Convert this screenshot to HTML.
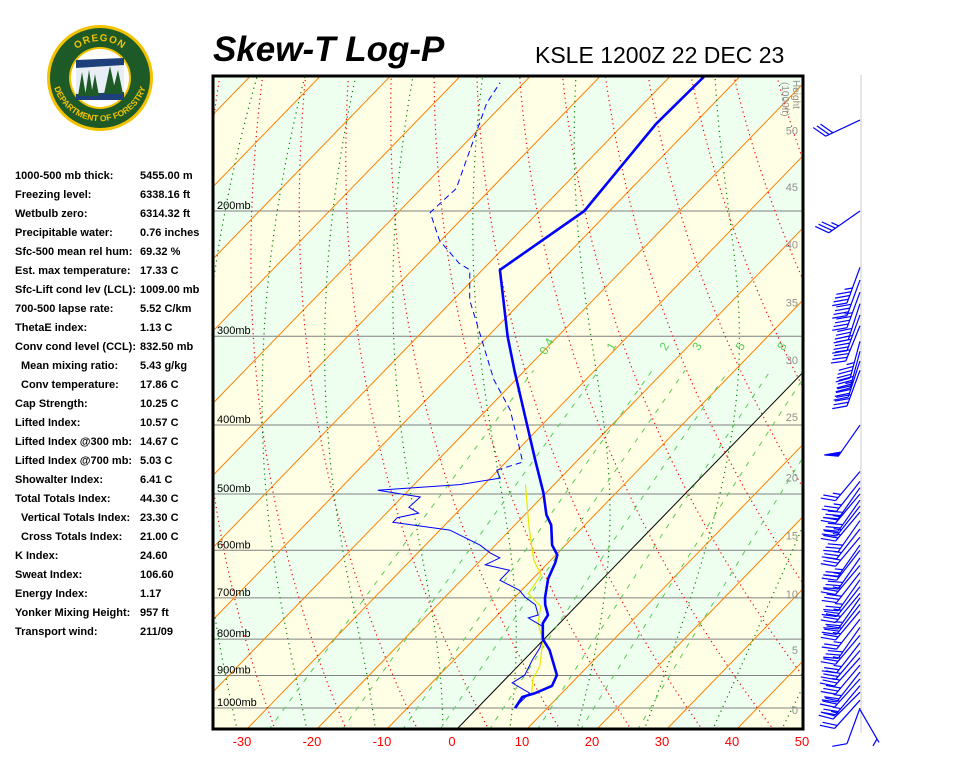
<!DOCTYPE html>
<html><head><meta charset="utf-8"><style>
body{margin:0;background:#fff;width:960px;height:768px;overflow:hidden;font-family:"Liberation Sans",sans-serif}
#stats{position:absolute;left:15px;top:169px;font-size:11px;font-weight:bold;color:#000}
.row{height:19px;line-height:14px;position:relative;white-space:nowrap}
.row .v{position:absolute;left:125px;top:0}
.ind{padding-left:6px}
</style></head><body>
<svg width="210" height="140" style="position:absolute;left:0;top:20px">
 <defs><path id="arcTop" d="M63,58 A37,37 0 0 1 137,58"/><path id="arcBot" d="M58,30 A48,48 0 1 0 142,30"/></defs>
 <circle cx="100" cy="58" r="53" fill="#f2c200"/>
 <circle cx="100" cy="58" r="50" fill="#1e5a28"/>
 <circle cx="100" cy="58" r="31" fill="#f2c200"/>
 <circle cx="100" cy="58" r="29" fill="#fff"/>
 <path d="M76,40 L124,38 L124,80 L76,80 Z" fill="#1d3f7a"/>
 <path d="M76,48 L124,45 L124,72 L76,74 Z" fill="#e8eef5"/>
 <path d="M78,76 L82,52 L86,76 Z M85,76 L89,50 L93,76 Z M91,76 L95,54 L99,76 Z M104,74 L110,46 L116,74 Z M112,74 L118,50 L123,74 Z" fill="#1e5a28"/>
 <text font-size="10" font-weight="bold" fill="#f2c200" letter-spacing="1"><textPath href="#arcTop" startOffset="50%" text-anchor="middle">OREGON</textPath></text>
 <text font-size="8.5" font-weight="bold" fill="#f2c200"><textPath href="#arcBot" startOffset="50%" text-anchor="middle">DEPARTMENT OF FORESTRY</textPath></text>
</svg>
<div style="position:absolute;left:213px;top:30px;font-size:35px;font-weight:bold;font-style:italic">Skew-T Log-P</div>
<div style="position:absolute;left:535px;top:42px;font-size:23px">KSLE 1200Z 22 DEC 23</div>
<div id="stats">
<div class="row">1000-500 mb thick:<span class="v">5455.00 m</span></div>
<div class="row">Freezing level:<span class="v">6338.16 ft</span></div>
<div class="row">Wetbulb zero:<span class="v">6314.32 ft</span></div>
<div class="row">Precipitable water:<span class="v">0.76 inches</span></div>
<div class="row">Sfc-500 mean rel hum:<span class="v">69.32 %</span></div>
<div class="row">Est. max temperature:<span class="v">17.33 C</span></div>
<div class="row">Sfc-Lift cond lev (LCL):<span class="v">1009.00 mb</span></div>
<div class="row">700-500 lapse rate:<span class="v">5.52 C/km</span></div>
<div class="row">ThetaE index:<span class="v">1.13 C</span></div>
<div class="row">Conv cond level (CCL):<span class="v">832.50 mb</span></div>
<div class="row ind">Mean mixing ratio:<span class="v">5.43 g/kg</span></div>
<div class="row ind">Conv temperature:<span class="v">17.86 C</span></div>
<div class="row">Cap Strength:<span class="v">10.25 C</span></div>
<div class="row">Lifted Index:<span class="v">10.57 C</span></div>
<div class="row">Lifted Index @300 mb:<span class="v">14.67 C</span></div>
<div class="row">Lifted Index @700 mb:<span class="v">5.03 C</span></div>
<div class="row">Showalter Index:<span class="v">6.41 C</span></div>
<div class="row">Total Totals Index:<span class="v">44.30 C</span></div>
<div class="row ind">Vertical Totals Index:<span class="v">23.30 C</span></div>
<div class="row ind">Cross Totals Index:<span class="v">21.00 C</span></div>
<div class="row">K Index:<span class="v">24.60</span></div>
<div class="row">Sweat Index:<span class="v">106.60</span></div>
<div class="row">Energy Index:<span class="v">1.17</span></div>
<div class="row">Yonker Mixing Height:<span class="v">957 ft</span></div>
<div class="row">Transport wind:<span class="v">211/09</span></div>
</div>
<svg id="c" width="960" height="768" style="position:absolute;left:0;top:0">
<defs><clipPath id="clip"><rect x="213" y="76" width="590" height="653"/></clipPath></defs>
<g id="plot" clip-path="url(#clip)"></g>
<g id="over"></g>
</svg>
<script>
// ---- data ----
const tempP = [1000,965,953,931,899,829,800,760,740,716,700,658,625,609,590,553,535,498,448,400,335,300,242,200,151,129];
const tempT = [5.4,4.9,6.2,7.6,6.8,2.3,-0.2,-2.4,-2.8,-4.6,-5.6,-7.8,-9.0,-9.8,-11.9,-14.8,-16.9,-20.4,-26.1,-32.1,-41.5,-47.2,-57.5,-53.6,-55.4,-55.1];
const dewP = [1000,953,922,899,856,823,800,767,747,740,716,698,683,661,640,629,615,605,590,562,548,540,532,522,505,494,485,475,463,451,423,381,345,297,267,242,237,220,201,186,164,141,132];
const dewT = [5.3,5.4,1.5,2.2,1.2,0.6,-0.2,-2.1,-5.2,-4.2,-6.0,-8.6,-10.3,-14.5,-14.5,-18.7,-17.6,-19.7,-22.2,-28.6,-37.8,-37.8,-35.4,-37.6,-37.4,-44.4,-33.5,-28.6,-30.2,-27.6,-31.0,-36.6,-43.2,-51.6,-57.6,-61.8,-64.2,-70.2,-75.4,-75.0,-78.4,-82.5,-83.4];
const wbP = [953,910,873,823,800,760,720,690,650,620,560,485];
const wbT = [5.7,3.9,3.1,0.9,-0.2,-3.1,-5.0,-8.6,-9.3,-12.4,-17.4,-24.1];
const pressureLevels = [200,300,400,500,600,700,800,900,1000];
const tempTicks = [-30,-20,-10,0,10,20,30,40,50];
const mixRatios = [0.4,1,2,3,5,8,12,20];
const heightLabels = [0,5,10,15,20,25,30,35,40,45,50];
const heightP = [1006,829,691,572,474,390,324,269,223,185,154];
const windP = [149,200,240,250,260,270,280,290,305,315,325,335,400,465,480,490,500,510,520,530,545,560,575,590,600,615,630,645,660,675,690,700,715,730,750,770,790,810,830,850,870,890,910,930,950,975,1000,1005];
const windDir = [245,235,200,200,200,198,200,202,195,195,198,200,215,220,218,215,220,215,218,220,215,218,220,215,218,215,220,218,215,218,220,215,218,220,218,215,220,218,220,222,220,218,222,220,225,222,200,150];
const windSpd = [30,35,45,40,45,40,45,40,45,40,45,40,50,25,25,30,25,30,25,25,30,25,30,25,25,30,25,30,25,25,30,25,30,25,25,30,25,25,30,25,30,25,30,25,25,20,10,5];

// ---- axes ----
const NS='http://www.w3.org/2000/svg';
const L=213,R=803,TOP=76,BOT=729;
function yP(p){return 708+308.8*Math.log(p/1000);}
function xT(T,y){return 457+7*T+0.97*(BOT-y);}
function mk(tag,attrs,parent){const e=document.createElementNS(NS,tag);for(const k in attrs)e.setAttribute(k,attrs[k]);parent.appendChild(e);return e;}
const plot=document.getElementById('plot'),over=document.getElementById('over');
function pathFrom(pts){return pts.map((q,i)=>(i?'L':'M')+q[0].toFixed(1)+','+q[1].toFixed(1)).join('');}
function ptsPT(ps,ts){return ps.map((p,i)=>{const y=yP(p);return [xT(ts[i],y),y];});}

for(let T=-170;T<=60;T+=10){
  const k=Math.round(T/10);
  const a=[xT(T,BOT),BOT],b=[xT(T,TOP),TOP],c=[xT(T+10,TOP),TOP],d=[xT(T+10,BOT),BOT];
  const band=mk('path',{d:pathFrom([a,b,c,d])+'Z',fill:(k%2===0)?'#ffffe6':'#eefff0'},plot);
  
  
}
pressureLevels.forEach(p=>{
  const y=yP(p);
  const ln=mk('line',{x1:L,x2:R,y1:y,y2:y,stroke:'#808080','stroke-width':1},plot);
  
  
});
for(let T=-170;T<=60;T+=10){
  const ln=mk('line',{x1:xT(T,BOT),y1:BOT,x2:xT(T,TOP),y2:TOP,stroke:T===0?'#000':'#ff8000','stroke-width':1},plot);
  
  
}
for(let T0=-60;T0<=200;T0+=10){
  const pts=[];
  for(let p=1075;p>=125;p-=10){const T=(T0+273.15)*Math.pow(p/1000,0.24)-273.15;const y=yP(p);pts.push([xT(T,y),y]);}
  const ln=mk('path',{d:pathFrom(pts),fill:'none',stroke:'#ff0000','stroke-width':1.2,'stroke-dasharray':'1.2 3.5'},plot);
  
  
}
function es(T){return 6.112*Math.exp(17.67*T/(T+243.5));}
function dTdp(T,p){const Tk=T+273.15,e=es(T),rs=0.622*e/(p-e),Lv=2.5e6,Rd=287,cp=1004;
  return (Rd*Tk+Lv*rs)/(p*(cp+Lv*Lv*rs*0.622/(Rd*Tk*Tk)));}
for(let T0=-35;T0<=45;T0+=10){
  const up=[];let T=T0;
  for(let p=1000;p>=125;p-=2){const y=yP(p);up.push([xT(T0+0.8*(T-T0),y),y]);T-=dTdp(T,p)*2;}
  const dn=[];T=T0;
  for(let p=1000;p<=1076;p+=2){const y=yP(p);dn.unshift([xT(T0+0.8*(T-T0),y),y]);T+=dTdp(T,p)*2;}
  const ln=mk('path',{d:pathFrom(dn.concat(up)),fill:'none',stroke:'#008000','stroke-width':1.2,'stroke-dasharray':'1.2 4'},plot);
  
  
}
function tMix(w,p){const e=w*p/(622+w);const l=Math.log(e/6.112);return 243.5*l/(17.67-l);}
mixRatios.forEach(w=>{
  const pts=[];
  for(let p=1075;p>=335;p-=10){const y=yP(p);pts.push([xT(tMix(w,p),y),y]);}
  const ln=mk('path',{d:pathFrom(pts),fill:'none',stroke:'#55cc55','stroke-width':1,'stroke-dasharray':'5 7'},plot);
  
  
  const y=yP(312),x=xT(tMix(w,312),y);
  const t=mk('text',{x:x,y:y,'font-size':12,fill:'#55cc55','text-anchor':'middle',transform:`rotate(-60 ${x} ${y})`},plot);
  t.textContent=String(w);
  
  
});
pressureLevels.forEach(p=>{
  const t=mk('text',{x:217,y:yP(p)-2,'font-size':11,fill:'#000'},plot);
  t.textContent=p+'mb';
  
  
});
heightLabels.forEach((h,i)=>{
  const t=mk('text',{x:798,y:yP(heightP[i])+4,'font-size':11,fill:'#909090','text-anchor':'end'},plot);
  t.textContent=String(h);
  
  
});
const ht=mk('text',{x:793,y:80,'font-size':10,fill:'#909090',transform:'rotate(90 793 80)'},plot);
ht.textContent='Height';


const ht2=mk('text',{x:782,y:82,'font-size':10,fill:'#909090',transform:'rotate(90 782 82)'},plot);
ht2.textContent='(1000ft)';


const wb=mk('path',{d:pathFrom(ptsPT(wbP,wbT)),fill:'none',stroke:'#e8e800','stroke-width':1.2},plot);


const dpts=ptsPT(dewP,dewT);
const split=dewP.findIndex(p=>p<470);
const d1=mk('path',{d:pathFrom(dpts.slice(0,split+1)),fill:'none',stroke:'#0000ff','stroke-width':1},plot);


const d2=mk('path',{d:pathFrom(dpts.slice(split)),fill:'none',stroke:'#0000ff','stroke-width':1,'stroke-dasharray':'6 4'},plot);


const tl=mk('path',{d:pathFrom(ptsPT(tempP,tempT)),fill:'none',stroke:'#0000ff','stroke-width':2.6,'stroke-linejoin':'round'},plot);


const fr=mk('rect',{x:L,y:TOP,width:R-L,height:BOT-TOP,fill:'none',stroke:'#000','stroke-width':3},over);


tempTicks.forEach(T=>{
  const t=mk('text',{x:xT(T,BOT)-5,y:746,'font-size':13,fill:'#ff0000','text-anchor':'middle'},over);
  t.textContent=String(T);
  
  
});
const wl=mk('line',{x1:861,y1:75,x2:861,y2:733,stroke:'#e6e6e6','stroke-width':2},over);


windP.forEach((p,i)=>{
  const y0=yP(p),x0=860,len=38;
  const th=windDir[i]*Math.PI/180;
  const vx=Math.sin(th),vy=-Math.cos(th);
  const ex=x0+vx*len,ey=y0+vy*len;
  const g=mk('g',{stroke:'#0000ff','stroke-width':1.2,fill:'#0000ff'},over);
  
  
  mk('line',{x1:x0,y1:y0,x2:ex,y2:ey},g);
  const a=Math.atan2(vy,vx)+Math.PI/3;
  const tx=Math.cos(a),ty=Math.sin(a);
  let s=windSpd[i],pos=0;
  while(s>=50){const bx=ex-vx*pos,by=ey-vy*pos;mk('path',{d:`M${bx},${by}L${bx+tx*14},${by+ty*14}L${bx-vx*5},${by-vy*5}Z`},g);pos+=6;s-=50;}
  while(s>=10){const bx=ex-vx*pos,by=ey-vy*pos;mk('line',{x1:bx,y1:by,x2:bx+tx*15,y2:by+ty*15},g);pos+=4;s-=10;}
  if(s>=5){if(pos===0)pos=4;const bx=ex-vx*pos,by=ey-vy*pos;mk('line',{x1:bx,y1:by,x2:bx+tx*8,y2:by+ty*8},g);}
});
</script>
</body></html>
